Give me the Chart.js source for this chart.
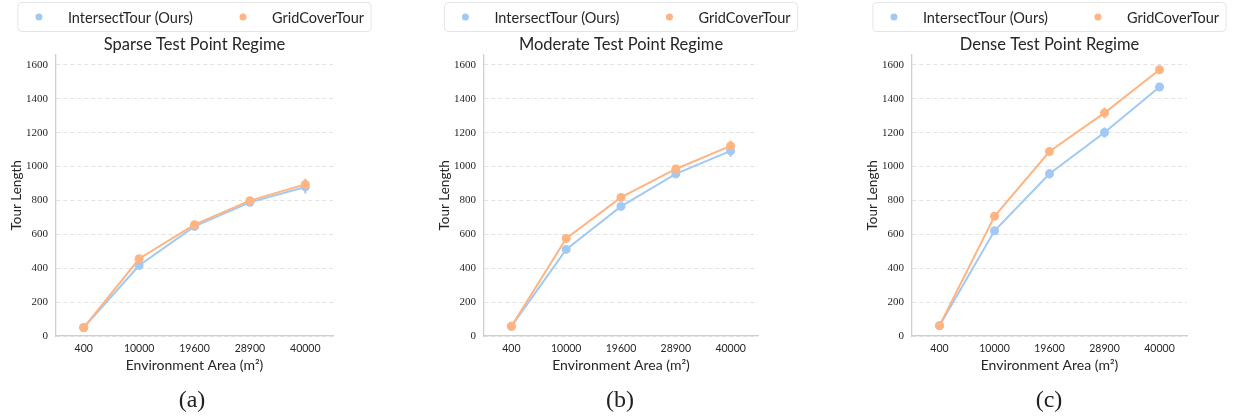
<!DOCTYPE html>
<html>
<head>
<meta charset="utf-8">
<script src="https://cdn.jsdelivr.net/npm/chart.js@4.4.1/dist/chart.umd.min.js"></script>
<style>
  body { margin: 0; background: #fff; overflow: hidden; width: 1233px; height: 418px; position: relative; }
  canvas { position: absolute; top: 0; }
  .cap { position: absolute; top: 387px; line-height: 24px; font-family: "Liberation Serif", "DejaVu Serif", serif; font-size: 24px; color: #222; transform: translateX(-50%); }
</style>
</head>
<body>
<canvas id="sparse" width="389" height="390" style="left:0px"></canvas>
<canvas id="moderate" width="386" height="390" style="left:428px"></canvas>
<canvas id="dense" width="387" height="390" style="left:856px"></canvas>
<div class="cap" style="left:192px">(a)</div>
<div class="cap" style="left:620px">(b)</div>
<div class="cap" style="left:1049px">(c)</div>
<script>
const areas = ['400', '10000', '19600', '28900', '40000'];
const yTicks = [0, 200, 400, 600, 800, 1000, 1200, 1400, 1600];
const seriesNames = ['IntersectTour (Ours)', 'GridCoverTour'];
const colors = ['#a1c9f4', '#ffb482'];

// tour length means and error bar half-heights
const intersectSparse = [50, 416, 647, 789, 880];
const intersectSparseErr = [5, 20, 14, 16, 38];
const gridSparse = [49, 456, 657, 799, 895];
const gridSparseErr = [5, 22, 14, 16, 34];

const intersectModerate = [57, 511, 765, 957, 1093];
const intersectModerateErr = [5, 14, 16, 16, 36];
const gridModerate = [57, 576, 818, 986, 1122];
const gridModerateErr = [5, 12, 14, 16, 32];

const intersectDense = [61, 621, 958, 1201, 1470];
const intersectDenseErr = [5, 18, 28, 30, 24];
const gridDense = [61, 707, 1089, 1317, 1572];
const gridDenseErr = [5, 16, 26, 32, 26];

const sans = 'Lato, "Open Sans", sans-serif';
const serif = '"Liberation Serif", "DejaVu Serif", serif';
const textColor = '#262626';

const errorBars = {
    id: 'errorBars',
    beforeDatasetsDraw(chart) {
        const ctx = chart.ctx;
        const y = chart.scales.y;
        chart.data.datasets.forEach((ds, i) => {
            const meta = chart.getDatasetMeta(i);
            ctx.save();
            ctx.strokeStyle = ds.borderColor;
            ctx.lineWidth = 2;
            meta.data.forEach((pt, j) => {
                ctx.beginPath();
                ctx.moveTo(pt.x, y.getPixelForValue(ds.data[j] - ds.errors[j]));
                ctx.lineTo(pt.x, y.getPixelForValue(ds.data[j] + ds.errors[j]));
                ctx.stroke();
            });
            ctx.restore();
        });
    }
};

// framed legend like the matplotlib one
const framedLegend = {
    id: 'framedLegend',
    afterDraw(chart) {
        const ctx = chart.ctx;
        const area = chart.chartArea;
        const cx = (area.left + area.right) / 2;
        ctx.save();
        ctx.font = '14.5px ' + sans;
        const widths = seriesNames.map(n => ctx.measureText(n).width);
        const total = 21 + 29 + widths[0] + 50 + 29 + widths[1] + 7;
        const left = cx - total / 2;
        const top = 2.5, h = 29, cy = top + h / 2;
        ctx.strokeStyle = '#e4e4e4';
        ctx.lineWidth = 1;
        ctx.beginPath();
        ctx.roundRect(left, top, total, h, 4);
        ctx.stroke();
        let x = left + 21;
        ctx.textBaseline = 'middle';
        seriesNames.forEach((name, i) => {
            ctx.fillStyle = colors[i];
            ctx.beginPath();
            ctx.arc(x, cy, 3.5, 0, Math.PI * 2);
            ctx.fill();
            ctx.fillStyle = textColor;
            ctx.fillText(name, x + 29, cy + 1);
            x += 29 + widths[i] + 50;
        });
        ctx.restore();
    }
};

function makePanel(id, title, blue, blueErr, orange, orangeErr) {
    new Chart(document.getElementById(id), {
        type: 'line',
        data: {
            labels: areas,
            datasets: [
                { label: seriesNames[0], data: blue, errors: blueErr, borderColor: colors[0], backgroundColor: colors[0], order: 1 },
                { label: seriesNames[1], data: orange, errors: orangeErr, borderColor: colors[1], backgroundColor: colors[1], order: 0 }
            ]
        },
        options: {
            responsive: false,
            animation: false,
            layout: { padding: { left: 0, right: 56, top: 34, bottom: 14 } },
            elements: {
                line: { borderWidth: 2, tension: 0 },
                point: { radius: 4.5, borderWidth: 0, hoverRadius: 4.5 }
            },
            plugins: {
                legend: { display: false },
                tooltip: { enabled: false },
                title: {
                    display: true,
                    fullSize: false,
                    text: title,
                    color: textColor,
                    font: { family: sans, size: 16.5, weight: 'normal' },
                    padding: { top: 1, bottom: 0 }
                }
            },
            scales: {
                x: {
                    type: 'category',
                    offset: true,
                    afterFit: s => { s.height = 40; },
                    grid: { display: false, drawTicks: false },
                    border: { color: '#cfcfcf', width: 1.3 },
                    ticks: { color: textColor, font: { family: sans, size: 10.5 }, padding: 6, maxRotation: 0, minRotation: 0, autoSkip: false },
                    title: { display: true, text: 'Environment Area (m²)', color: textColor, font: { family: sans, size: 14 }, padding: { top: 0, bottom: 2.6 } }
                },
                y: {
                    min: 0,
                    max: 1660,
                    afterBuildTicks: s => { s.ticks = yTicks.map(v => ({ value: v })); },
                    afterFit: s => { s.width = 56; },
                    grid: { color: '#e3e3e3', lineWidth: 1, drawTicks: false },
                    border: { color: '#cfcfcf', width: 1.3, dash: [4, 3] },
                    ticks: { color: textColor, font: { family: serif, size: 11 }, padding: 8, callback: v => String(v) },
                    title: { display: true, text: 'Tour Length', color: textColor, font: { family: sans, size: 13.5 }, padding: { top: 9, bottom: 0 } }
                }
            }
        },
        plugins: [errorBars, framedLegend]
    });
}

makePanel('sparse', 'Sparse Test Point Regime', intersectSparse, intersectSparseErr, gridSparse, gridSparseErr);
makePanel('moderate', 'Moderate Test Point Regime', intersectModerate, intersectModerateErr, gridModerate, gridModerateErr);
makePanel('dense', 'Dense Test Point Regime', intersectDense, intersectDenseErr, gridDense, gridDenseErr);
</script>
</body>
</html>
